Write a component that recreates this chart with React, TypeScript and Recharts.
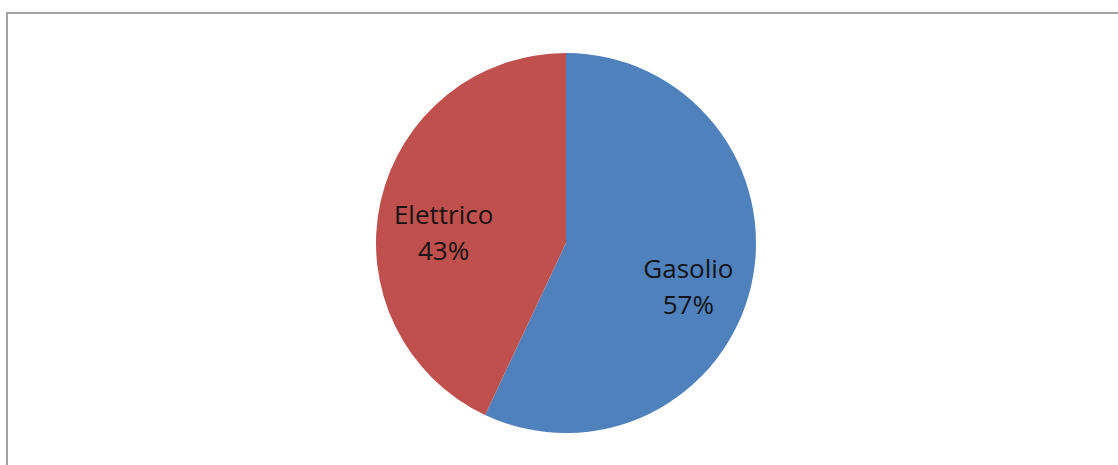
import { PieChart, Pie, Cell } from 'recharts'

const FUELS = ['Gasolio', 'Elettrico']
const SHARES = [57, 43]
const FUEL_COLORS = ['#4F81BD', '#C0504D']

const data = FUELS.map((name, i) => ({ name, value: SHARES[i] }))

const RADIAN = Math.PI / 180

// Two-line label (name + percentage) placed inside the slice, along its mid angle
function SliceLabel(props: any) {
  const { cx, cy, midAngle, outerRadius, name, value } = props
  const r = outerRadius * 0.66
  const x = cx + r * Math.cos(-midAngle * RADIAN)
  const y = cy + r * Math.sin(-midAngle * RADIAN) + 18
  return (
    <text
      x={x}
      y={y}
      textAnchor="middle"
      fill="#141414"
      style={{ fontFamily: '"Open Sans", sans-serif', fontSize: 26 }}
    >
      <tspan x={x} dy={-10}>{name}</tspan>
      <tspan x={x} dy={36}>{`${value}%`}</tspan>
    </text>
  )
}

export default function App() {
  return (
    <div
      style={{
        position: 'fixed',
        left: 0,
        top: 0,
        width: 1118,
        height: 465,
        overflow: 'hidden',
        background: '#fff',
      }}
    >
      {/* chart frame: only top and left edges fall inside the view */}
      <div
        style={{
          position: 'absolute',
          left: 6,
          top: 12,
          width: 1200,
          height: 600,
          borderTop: '2px solid #a3a3a3',
          borderLeft: '2px solid #a3a3a3',
        }}
      />
      <div style={{ position: 'absolute', left: 0, top: 0 }}>
        <PieChart width={1118} height={465} margin={{ top: 0, right: 0, bottom: 0, left: 0 }}>
          <Pie
            data={data}
            dataKey="value"
            nameKey="name"
            cx={566}
            cy={243}
            outerRadius={190}
            startAngle={90}
            endAngle={-270}
            stroke="none"
            labelLine={false}
            label={SliceLabel}
            isAnimationActive={false}
          >
            {data.map((d, i) => (
              <Cell key={d.name} fill={FUEL_COLORS[i]} />
            ))}
          </Pie>
        </PieChart>
      </div>
    </div>
  )
}
